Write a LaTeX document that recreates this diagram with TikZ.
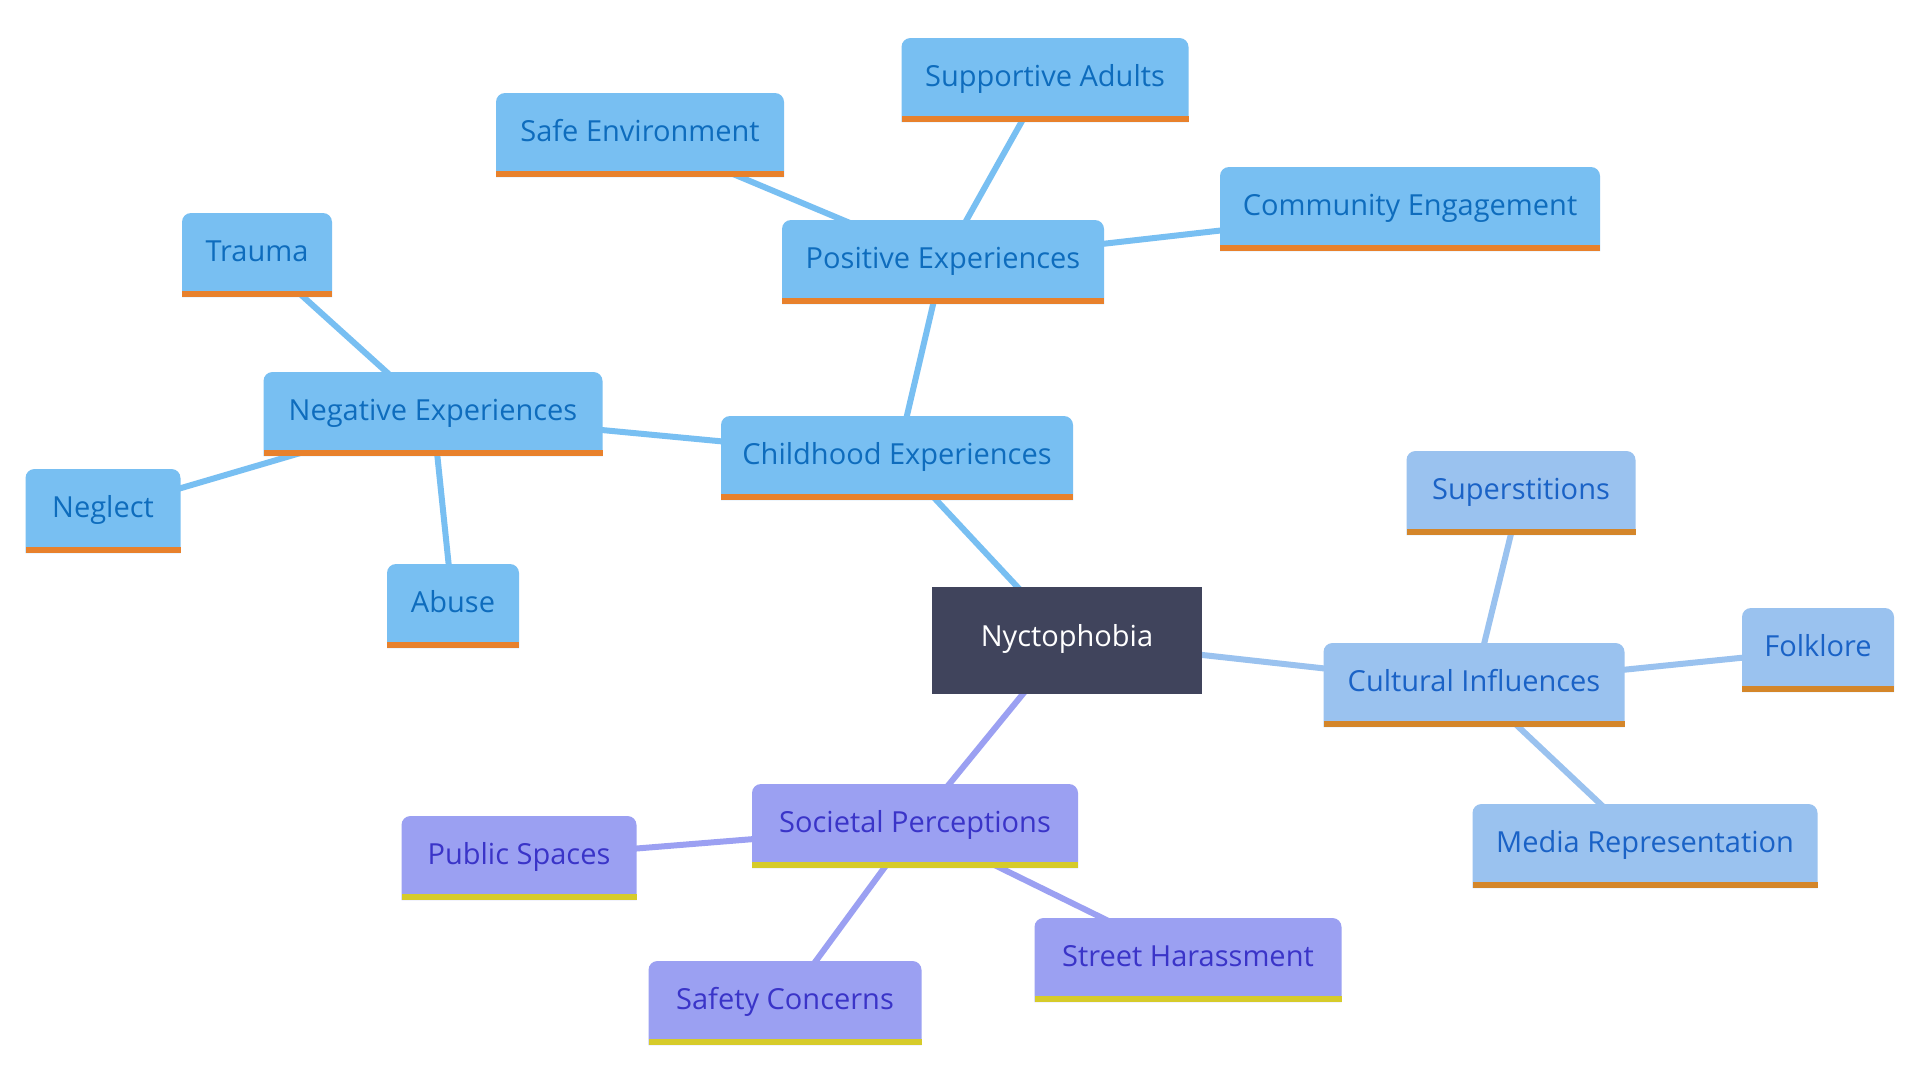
\documentclass[tikz,border=0pt]{standalone}
\usepackage{fontspec}
\setmainfont{Open Sans}
\pgfdeclarelayer{bg}
\pgfdeclarelayer{edges}
\pgfdeclarelayer{boxes}
\pgfsetlayers{bg,edges,boxes,main}
\definecolor{rootfill}{HTML}{40445C}
\definecolor{cfill}{HTML}{78BFF2}
\definecolor{ctext}{HTML}{0E6CBD}
\definecolor{cstripe}{HTML}{E8812C}
\definecolor{kfill}{HTML}{9AC2EF}
\definecolor{ktext}{HTML}{1A62C6}
\definecolor{kstripe}{HTML}{D4862A}
\definecolor{sfill}{HTML}{9BA0F2}
\definecolor{stext}{HTML}{3A34C8}
\definecolor{sstripe}{HTML}{D6CB2A}
\newcommand\boxshape[3]{%
  \begin{pgfonlayer}{boxes}
  \fill[#2] (#1.south west) -- ([yshift=-9pt]#1.north west) arc[start angle=180,end angle=90,radius=9pt]
    -- ([xshift=-9pt]#1.north east) arc[start angle=90,end angle=0,radius=9pt] -- (#1.south east) -- cycle;
  \fill[#3] (#1.south west) rectangle ([yshift=6pt]#1.south east);
  \end{pgfonlayer}}
\tikzset{
  base/.style={inner sep=0pt, outer sep=0pt, minimum height=84pt, font=\fontsize{29}{34}\selectfont,
    text height=1.35em, text depth=0em},
  cnode/.style={base, text=ctext},
  knode/.style={base, text=ktext},
  snode/.style={base, text=stext},
  cedge/.style={draw=cfill, line width=6pt},
  kedge/.style={draw=kfill, line width=6pt},
  sedge/.style={draw=sfill, line width=6pt},
}
\begin{document}
\begin{tikzpicture}[x=1pt,y=-1pt]
\begin{pgfonlayer}{bg}
\fill[white] (0,0) rectangle (1920,1080);
\end{pgfonlayer}
\useasboundingbox (0,0) rectangle (1920,1080);
\node[base, fill=rootfill, text=white, minimum width=270pt, minimum height=107pt] (root) at (1067,640) {Nyctophobia};
\node[cnode, minimum width=352pt] (child) at (897,458) {Childhood Experiences};
\node[cnode, minimum width=322pt] (pos) at (943,262) {Positive Experiences};
\node[cnode, minimum width=339pt] (neg) at (433,414) {Negative Experiences};
\node[cnode, minimum width=288pt] (safe) at (640,135) {Safe Environment};
\node[cnode, minimum width=287pt] (supp) at (1045,80) {Supportive Adults};
\node[cnode, minimum width=380pt] (comm) at (1410,209) {Community Engagement};
\node[cnode, minimum width=150pt] (trauma) at (257,255) {Trauma};
\node[cnode, minimum width=155pt] (neglect) at (103,511) {Neglect};
\node[cnode, minimum width=132pt] (abuse) at (453,606) {Abuse};
\node[knode, minimum width=301pt] (cult) at (1474,685) {Cultural Influences};
\node[knode, minimum width=229pt] (sup) at (1521,493) {Superstitions};
\node[knode, minimum width=152pt] (folk) at (1818,650) {Folklore};
\node[knode, minimum width=345pt] (media) at (1645,846) {Media Representation};
\node[snode, minimum width=326pt] (soc) at (915,826) {Societal Perceptions};
\node[snode, minimum width=235pt] (pub) at (519,858) {Public Spaces};
\node[snode, minimum width=273pt] (safety) at (785,1003) {Safety Concerns};
\node[snode, minimum width=307pt] (street) at (1188,960) {Street Harassment};
\foreach \n in {child,pos,neg,safe,supp,comm,trauma,neglect,abuse}{\boxshape{\n}{cfill}{cstripe}}
\foreach \n in {cult,sup,folk,media}{\boxshape{\n}{kfill}{kstripe}}
\foreach \n in {soc,pub,safety,street}{\boxshape{\n}{sfill}{sstripe}}
\begin{pgfonlayer}{edges}
\path[cedge] (root.center) -- (child.center);
\path[cedge] (child.center) -- (pos.center);
\path[cedge] (child.center) -- (neg.center);
\path[cedge] (pos.center) -- (safe.center);
\path[cedge] (pos.center) -- (supp.center);
\path[cedge] (pos.center) -- (comm.center);
\path[cedge] (neg.center) -- (trauma.center);
\path[cedge] (neg.center) -- (neglect.center);
\path[cedge] (neg.center) -- (abuse.center);
\path[kedge] (root.center) -- (cult.center);
\path[kedge] (cult.center) -- (sup.center);
\path[kedge] (cult.center) -- (folk.center);
\path[kedge] (cult.center) -- (media.center);
\path[sedge] (root.center) -- (soc.center);
\path[sedge] (soc.center) -- (pub.center);
\path[sedge] (soc.center) -- (safety.center);
\path[sedge] (soc.center) -- (street.center);
\end{pgfonlayer}
\end{tikzpicture}
\end{document}
